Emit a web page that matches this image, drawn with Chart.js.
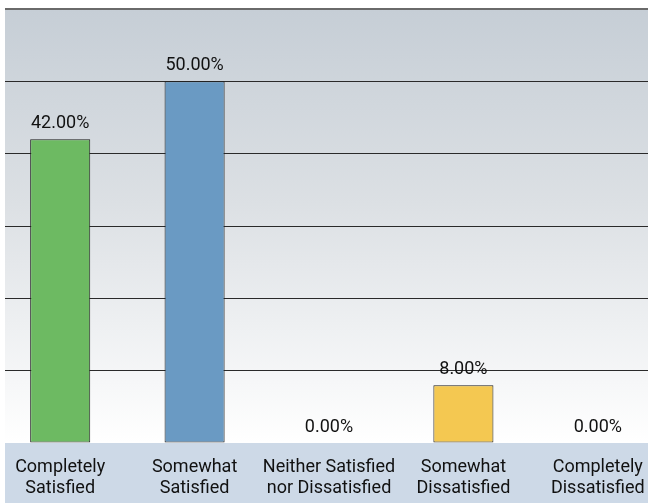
<!DOCTYPE html>
<html>
<head>
<meta charset="utf-8">
<script src="https://cdn.jsdelivr.net/npm/chart.js@4/dist/chart.umd.min.js"></script>
<style>
  html, body { margin: 0; padding: 0; background: #fff; }
  #wrap { position: absolute; left: 5px; top: 0; width: 643px; height: 503px; overflow: hidden; }
  #holder { position: absolute; left: -12px; top: 0; width: 672px; height: 503px; }
</style>
</head>
<body>
<div id="wrap"><div id="holder"><canvas id="myChart"></canvas></div></div>
<script>
const categories = [
  ['Completely', 'Satisfied'],
  ['Somewhat', 'Satisfied'],
  ['Neither Satisfied', 'nor Dissatisfied'],
  ['Somewhat', 'Dissatisfied'],
  ['Completely', 'Dissatisfied']
]
const percentages = [42, 50, 0, 8, 0]
const barColors = ['#6dba62', '#6a9ac3', '#6a9ac3', '#f4c851', '#6a9ac3']
const yTicks = [0, 10, 20, 30, 40, 50, 60]

const fontFamily = 'Roboto, "Liberation Sans", sans-serif'

// gradient behind the plot and the light blue strip under the axis
const backdrop = {
  id: 'backdrop',
  beforeDraw(chart) {
    const { ctx, chartArea, width, height } = chart
    ctx.save()
    const g = ctx.createLinearGradient(0, chartArea.top, 0, chartArea.bottom)
    g.addColorStop(0, '#c6ced6')
    g.addColorStop(0.45, '#dce0e4')
    g.addColorStop(1, '#ffffff')
    ctx.fillStyle = g
    ctx.fillRect(0, chartArea.top, width, chartArea.bottom - chartArea.top)
    ctx.fillStyle = '#cdd9e7'
    ctx.fillRect(0, chartArea.bottom, width, height - chartArea.bottom)
    ctx.restore()
  }
}

// percent text above each bar
const valueLabels = {
  id: 'valueLabels',
  afterDatasetsDraw(chart) {
    const { ctx } = chart
    const meta = chart.getDatasetMeta(0)
    ctx.save()
    ctx.font = '18px ' + fontFamily
    ctx.fillStyle = '#111'
    ctx.textAlign = 'center'
    ctx.textBaseline = 'alphabetic'
    meta.data.forEach((bar, i) => {
      ctx.fillText(percentages[i].toFixed(2) + '%', bar.x, bar.y - 11)
    })
    ctx.restore()
  }
}

const ctx = document.getElementById('myChart')

new Chart(ctx, {
  type: 'bar',
  data: {
    labels: categories,
    datasets: [{
      data: percentages,
      backgroundColor: barColors,
      borderColor: '#1e1e1e',
      borderWidth: (c) => percentages[c.dataIndex] === 0 ? 0 : 1,
      borderSkipped: false,
      categoryPercentage: 1,
      barPercentage: 0.447
    }]
  },
  options: {
    responsive: true,
    maintainAspectRatio: false,
    animation: false,
    layout: { padding: { top: 9, left: 0, right: 0, bottom: 0 } },
    plugins: {
      legend: { display: false },
      tooltip: { enabled: false }
    },
    scales: {
      x: {
        grid: { display: false },
        border: { display: false },
        ticks: {
          color: '#111',
          font: { family: fontFamily, size: 18, lineHeight: 1.17 },
          padding: 6,
          maxRotation: 0,
          autoSkip: false
        },
        afterFit: (scale) => { scale.height = 60 }
      },
      y: {
        min: yTicks[0],
        max: yTicks[yTicks.length - 1],
        afterBuildTicks: (scale) => { scale.ticks = yTicks.map(v => ({ value: v })) },
        ticks: { display: false },
        border: { display: false },
        grid: {
          drawTicks: false,
          color: (c) => c.tick.value === 0 ? 'rgba(0,0,0,0)' : (c.tick.value === 60 ? '#6a6a6a' : '#2a2a2a'),
          lineWidth: (c) => c.tick.value === 60 ? 2 : 1
        },
        afterFit: (scale) => { scale.width = 0 }
      }
    }
  },
  plugins: [backdrop, valueLabels]
})
</script>
</body>
</html>
